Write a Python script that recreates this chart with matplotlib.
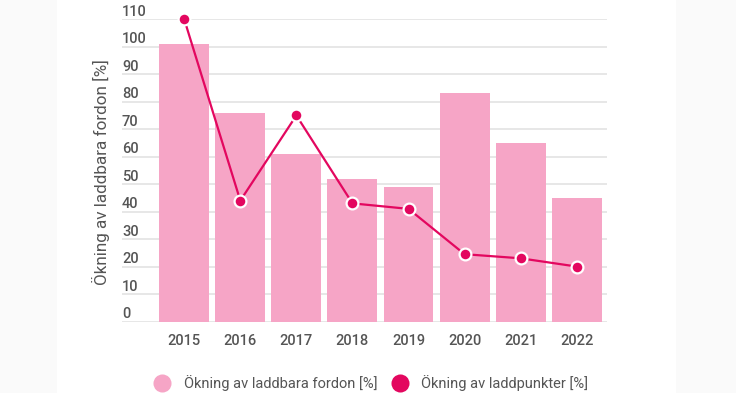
import matplotlib.pyplot as plt
from matplotlib.patches import Rectangle
from matplotlib.lines import Line2D
import matplotlib.transforms as mtransforms

# data
years = ["2015", "2016", "2017", "2018", "2019", "2020", "2021", "2022"]
vehicles = [101, 76, 61, 52, 49, 83, 65, 45]
chargers = [110, 44, 75, 43, 41, 24.5, 23, 20]
yticks = [0, 10, 20, 30, 40, 50, 60, 70, 80, 90, 100, 110]

bar_color = "#f6a5c6"
line_color = "#e3075f"
text_color = "#555555"

plt.rcParams['font.family'] = ['Roboto', 'DejaVu Sans']

fig = plt.figure(figsize=(7.36, 3.93), dpi=100)
fig.patch.set_facecolor("white")
# light grey side strips
fig.patches.append(Rectangle((0, 0), 57 / 736, 1, transform=fig.transFigure,
                             facecolor="#fafafa", edgecolor="none", zorder=-10))
fig.patches.append(Rectangle((676 / 736, 0), 60 / 736, 1, transform=fig.transFigure,
                             facecolor="#fafafa", edgecolor="none", zorder=-10))

W, H = 736, 393
left, right = 122, 607
top, bottom = 19.3, 321.5
ax = fig.add_axes([left / W, 1 - bottom / H, (right - left) / W, (bottom - top) / H])
ax.set_facecolor("none")

x = list(range(len(years)))
ax.bar(x, vehicles, width=0.89, color=bar_color, zorder=2)
ax.plot(x, chargers, color=line_color, lw=1.6, zorder=3)
ax.plot(x, chargers, 'o', color=line_color, ms=8.5, mec="white", mew=1.6,
        zorder=4, clip_on=False)

ax.set_xlim(-1.11, 7.54)
ax.set_ylim(0, 110)
ax.set_yticks(yticks)
ax.yaxis.grid(True, color="#e3e3e3", lw=1.2, zorder=0)
ax.set_axisbelow(True)
for s in ax.spines.values():
    s.set_visible(False)

# y tick labels sit above the gridlines, left-aligned inside the plot
ax.set_yticklabels([])
ax.tick_params(axis='y', length=0)
trans = mtransforms.blended_transform_factory(ax.transAxes, ax.transData)
off = mtransforms.ScaledTranslation(0, 0.5 / 100, fig.dpi_scale_trans)
for v in yticks:
    ax.text(0.0, v, str(v), transform=trans + off, ha="left", va="bottom",
            fontsize=10.5, color=text_color, fontweight="medium")

ax.set_xticks(x)
ax.set_xticklabels(years, fontsize=10.5, color=text_color, fontweight="medium")
ax.tick_params(axis='x', length=0, pad=9)

fig.text(101 / W, 1 - 172 / H, "Ökning av laddbara fordon [%]", rotation=90,
         ha="center", va="center", fontsize=12.3, color=text_color)

handles = [
    Line2D([], [], ls="none", marker="o", ms=13, color=bar_color, mec="none"),
    Line2D([], [], ls="none", marker="o", ms=13, color=line_color, mec="none"),
]
fig.legend(handles, ["Ökning av laddbara fordon [%]", "Ökning av laddpunkter [%]"],
           loc="center", bbox_to_anchor=(371 / W, 1 - 383 / H), ncol=2,
           frameon=False, fontsize=10.5, labelcolor=text_color,
           handletextpad=0.9, columnspacing=0.9, handlelength=1.2)

fig.savefig("out.png", dpi=100)
